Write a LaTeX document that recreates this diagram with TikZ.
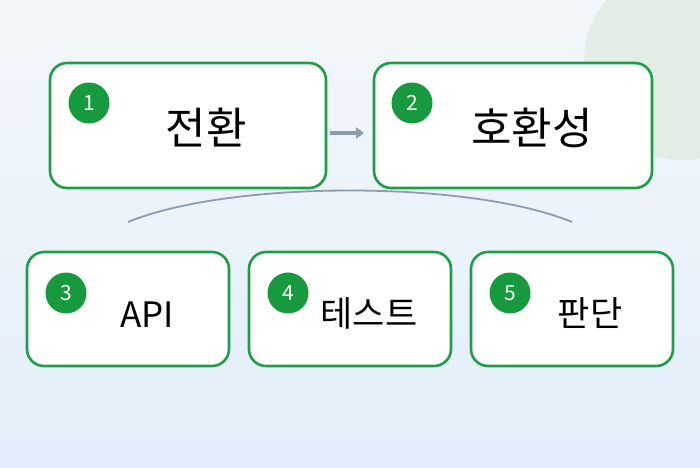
\documentclass[tikz,border=0pt]{standalone}
\usepackage{fontspec}
\setmainfont{Noto Sans CJK KR}
\usetikzlibrary{positioning,arrows.meta}
\definecolor{boxgreen}{HTML}{1E9E48}
\definecolor{dotgreen}{HTML}{179A3E}
\definecolor{linkgray}{HTML}{8D9CAE}
\definecolor{bgtop}{HTML}{F3F7FB}
\definecolor{bgbot}{HTML}{E2EEFA}
\definecolor{blob}{HTML}{E2EEE5}
\tikzset{
  card/.style={draw=boxgreen,line width=2.6pt,rounded corners=17pt,fill=white},
  num/.style={circle,fill=dotgreen,text=white,minimum size=41pt,inner sep=0pt,font=\fontsize{21}{21}\selectfont},
  big/.style={font=\fontsize{44}{44}\selectfont},
  small/.style={font=\fontsize{35}{35}\selectfont},
}
\begin{document}
\begin{tikzpicture}[x=1pt,y=-1pt]
  \shade[top color=bgtop,bottom color=bgbot](0,0)rectangle(700,467);
  \useasboundingbox(0,0)rectangle(700,467);
  \fill[blob](682,62)circle(98);
  % top row
  \draw[card](50,63)rectangle(326,188);
  \draw[card](374,63)rectangle(652,188);
  \node[num](n1)at(89,103){1};
  \node[num](n2)at(412,103){2};
  \node[big](t1)at(206,128){전환};
  \node[big](t2)at(532,128){호환성};
  \coordinate(a1)at(330,133);
  \coordinate(a2)at(364,133);
  \draw[linkgray,line width=4pt,-{Triangle[length=8pt,width=11pt]}](a1)--(a2);
  % arc
  \coordinate(l)at(128,222);
  \coordinate(r)at(572,222);
  \draw[linkgray,line width=1.8pt](l)..controls(230,180)and(470,180)..(r);
  % bottom row
  \draw[card](27,252)rectangle(229,366);
  \draw[card](249,252)rectangle(451,366);
  \draw[card](471,252)rectangle(673,366);
  \node[num](n3)at(66,293){3};
  \node[num](n4)at(288,293){4};
  \node[num](n5)at(510,293){5};
  \node[small](t3)at(147,315){API};
  \node[small](t4)at(369,313){테스트};
  \node[small](t5)at(590,313){판단};
\end{tikzpicture}
\end{document}
